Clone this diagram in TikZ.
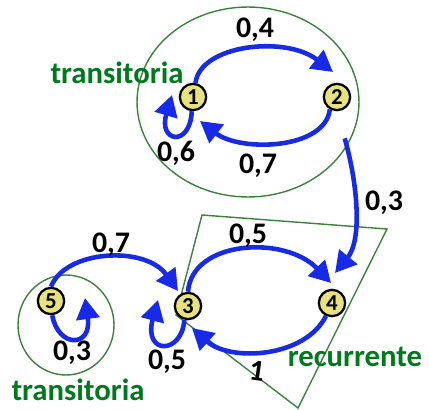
\documentclass[tikz,border=0pt]{standalone}
\usepackage{fontspec}
\setmainfont{Carlito}
\usetikzlibrary{arrows.meta}

\definecolor{arrblue}{RGB}{22,42,232}
\definecolor{setgreen}{RGB}{0,120,30}
\definecolor{linegreen}{RGB}{60,130,60}
\definecolor{stfill}{RGB}{232,225,125}

\begin{document}
\begin{tikzpicture}[x=0.02cm,y=-0.02cm,
    state/.style = {shape = circle,
                    draw = black,
                    line width = 1.3pt,
                    fill = stfill,
                    inner sep = 0pt,
                    minimum size = 15pt,
                    font = \fontsize{13}{13}\selectfont\bfseries},
    trans/.style = {draw = arrblue, line width = 2.6pt,
                    -{Triangle[length=12pt,width=13pt]}},
    prob/.style = {font = \fontsize{17}{17}\selectfont\bfseries},
    setname/.style = {text = setgreen, font = \fontsize{17.5}{17.5}\selectfont\bfseries},
    setline/.style = {draw = linegreen, line width = 0.8pt}]
    \useasboundingbox (0,0) rectangle (429,409);

    % classes
    \draw[setline] (248,102) ellipse [x radius=2.22cm, y radius=1.9cm];
    \draw[setline] (66,325) ellipse [x radius=0.96cm, y radius=1cm];
    \draw[setline] (202,215) -- (387,229) -- (298,408) -- (176,315) -- cycle;

    % states
    \node[state] (1) at (193,97) {1};
    \node[state] (2) at (337,97) {2};
    \node[state] (3) at (188,306) {3};
    \node[state] (4) at (332,303) {4};
    \node[state] (5) at (51,301) {5};

    % arrow tips
    \coordinate (t12) at (333,72);
    \coordinate (t21) at (200,121);
    \coordinate (t11) at (172,95);
    \coordinate (t24) at (335,273);
    \coordinate (t34) at (331,283);
    \coordinate (t43) at (192,328);
    \coordinate (t33) at (158,300);
    \coordinate (t53) at (178,291);
    \coordinate (t55) at (85,298);

    % transitions
    \draw[trans] (1.80) .. controls (200,45) and (285,35) .. (t12);
    \draw[trans] (2.-120) .. controls (325,150) and (240,152) .. (t21);
    \draw[trans] (1.-95) .. controls (190,148) and (158,142) .. (t11);
    \draw[trans, shorten <=16pt] (2.south) .. controls (358,185) and (362,240) .. (t24);
    \draw[trans] (3.north) .. controls (192,240) and (285,235) .. (t34);
    \draw[trans] (4.-115) .. controls (305,358) and (230,362) .. (t43);
    \draw[trans] (3.-105) .. controls (182,355) and (143,355) .. (t33);
    \draw[trans] (5.north) .. controls (65,250) and (145,245) .. (t53);
    \draw[trans] (5.-85) .. controls (58,348) and (92,348) .. (t55);

    % probabilities
    \node[prob] (p12) at (255,30) {0,4};
    \node[prob] (p11) at (176,153) {0,6};
    \node[prob] (p21) at (258,166) {0,7};
    \node[prob] (p24) at (384,203) {0,3};
    \node[prob] (p34) at (248,236) {0,5};
    \node[prob] (p53) at (111,245) {0,7};
    \node[prob] (p55) at (72,353) {0,3};
    \node[prob] (p33) at (167,362) {0,5};
    \node[prob, rotate=-8] (p43) at (257,371) {1};

    % class names
    \node[setname] (c1) at (117,73) {transitoria};
    \node[setname] (c2) at (78,390) {transitoria};
    \node[setname] (c3) at (355,357) {recurrente};
\end{tikzpicture}
\end{document}
